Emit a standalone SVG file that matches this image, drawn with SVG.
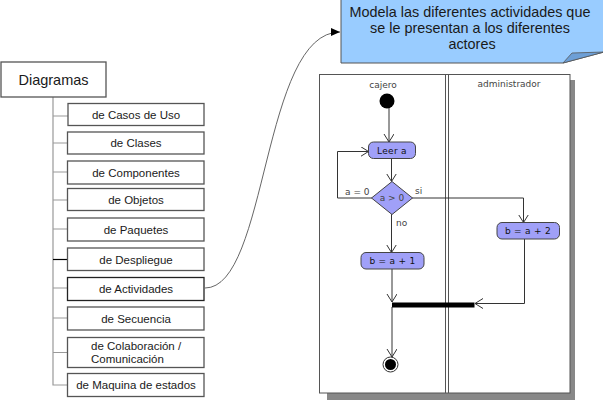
<svg xmlns="http://www.w3.org/2000/svg" width="603" height="400" viewBox="0 0 603 400">
<defs>
<style>
.box{fill:#fff;stroke:#555;stroke-width:1.3}
.lbl{font-family:"Liberation Sans",Arial,sans-serif;font-size:11.5px;fill:#1a1a1a;text-anchor:middle}
.tree{stroke:#999;stroke-width:1.2;fill:none}
.act{fill:#a0a0f8;stroke:#444;stroke-width:1}
.at{font-family:"DejaVu Sans",sans-serif;font-size:9px;letter-spacing:0.3px;fill:#111;text-anchor:middle}
.ag{font-family:"DejaVu Sans",sans-serif;font-size:9px;fill:#444}
.flow{stroke:#333;stroke-width:1;fill:none}
.lane{font-family:"DejaVu Sans",sans-serif;font-size:9px;fill:#444;text-anchor:middle}
</style>
<marker id="open" markerWidth="10" markerHeight="12" refX="8" refY="5" orient="auto" markerUnits="userSpaceOnUse">
<path d="M0,0 L8,5 L0,10" fill="none" stroke="#333" stroke-width="1"/>
</marker>
<marker id="fill" markerWidth="10" markerHeight="8" refX="9" refY="4" orient="auto" markerUnits="userSpaceOnUse">
<path d="M0,0 L9,4 L0,8 Z" fill="#000"/>
</marker>
</defs>

<g id="callout">
<path d="M341,-1 L604,-1 L604,52 L563,63 L341,63 Z" fill="#99ccff" stroke="#555" stroke-width="1"/>
<path d="M563,63 L572,53 L604,52 Z" fill="#6d9fd6" stroke="#555" stroke-width="0.8"/>
<text font-family="'Liberation Sans',Arial,sans-serif" font-size="14.4" fill="#1a1a1a" text-anchor="middle">
<tspan x="472" y="17">Modela las diferentes actividades que</tspan>
<tspan x="472" y="33">se le presentan a los diferentes</tspan>
<tspan x="472" y="49">actores</tspan>
</text>
</g>

<g id="tree-connectors">
<path class="tree" d="M53,97 V385 H68"/>
<path class="tree" d="M53,116 H68 M53,143 H68 M53,172 H68 M53,200 H68 M53,229 H68 M53,288 H68 M53,318 H68 M53,352.5 H68"/>
<path d="M53,259.5 H68" stroke="#000" stroke-width="1.2"/>
</g>

<g id="diagramas">
<rect class="box" x="1" y="62" width="105" height="35"/>
<text x="53.5" y="85" font-family="'Liberation Sans',Arial,sans-serif" font-size="14.5" fill="#1a1a1a" text-anchor="middle">Diagramas</text>
</g>
<g id="n-casos"><rect class="box" x="68" y="103.5" width="136" height="22"/><text class="lbl" x="136" y="118.5">de Casos de Uso</text></g>
<g id="n-clases"><rect class="box" x="67.5" y="132" width="136.5" height="22"/><text class="lbl" x="136" y="147">de Clases</text></g>
<g id="n-componentes"><rect class="box" x="67.5" y="161" width="136.5" height="23"/><text class="lbl" x="136" y="176.5">de Componentes</text></g>
<g id="n-objetos"><rect class="box" x="67.5" y="188.5" width="136.5" height="22"/><text class="lbl" x="136" y="203.5">de Objetos</text></g>
<g id="n-paquetes"><rect class="box" x="67.5" y="218" width="136.5" height="23"/><text class="lbl" x="136" y="233.5">de Paquetes</text></g>
<g id="n-despliegue"><rect class="box" x="67.5" y="248" width="136.5" height="22.5"/><text class="lbl" x="136" y="263.5">de Despliegue</text></g>
<g id="n-actividades"><rect class="box" x="67.5" y="277.5" width="136.5" height="23" style="stroke:#222"/><text class="lbl" x="136" y="293">de Actividades</text></g>
<g id="n-secuencia"><rect class="box" x="67.5" y="307" width="136.5" height="23"/><text class="lbl" x="136" y="322.5">de Secuencia</text></g>
<g id="n-colaboracion"><rect class="box" x="67.5" y="337.5" width="136.5" height="30"/><text class="lbl" x="136" y="349.5" style="text-anchor:start"><tspan x="91" y="349.5">de Colaboración /</tspan><tspan x="91" y="362.5">Comunicación</tspan></text></g>
<g id="n-maquina"><rect class="box" x="67.5" y="373.5" width="136.5" height="23"/><text class="lbl" x="136" y="389">de Maquina de estados</text></g>

<g id="link">
<path d="M205,288 C268,288 262,32 340,32" fill="none" stroke="#555" stroke-width="0.9" marker-end="url(#fill)"/>
</g>

<g id="activity-frame">
<path d="M570,80 H575 V400 H327 V393 H570 Z" fill="#888"/>
<rect x="319.5" y="74.5" width="250.5" height="318.5" fill="#fff" stroke="#555" stroke-width="1"/>
<line x1="445.5" y1="74.5" x2="445.5" y2="393" stroke="#555" stroke-width="1"/>
<line x1="448.5" y1="74.5" x2="448.5" y2="393" stroke="#555" stroke-width="1"/>
<text class="lane" x="383" y="88">cajero</text>
<text class="lane" x="509" y="87">administrador</text>
</g>

<g id="flows">
<path class="flow" d="M389,108 V142" marker-end="url(#open)"/>
<path class="flow" d="M391.5,158 V181.5" marker-end="url(#open)"/>
<path class="flow" d="M372,198 H337.5 V151.5 H368.5" marker-end="url(#open)"/>
<path class="flow" d="M412,198 H523.5 V222.5" marker-end="url(#open)"/>
<path class="flow" d="M391.5,214 V252.5" marker-end="url(#open)"/>
<path class="flow" d="M392,269 V302" marker-end="url(#open)"/>
<path class="flow" d="M524.5,239 V303.5 H475" marker-end="url(#open)"/>
<path class="flow" d="M392,307 V357" marker-end="url(#open)"/>
</g>

<g id="initial"><circle cx="387" cy="101" r="7.5" fill="#000"/></g>
<g id="leer"><rect class="act" x="368.5" y="142" width="47" height="16.5" rx="5"/><text class="at" x="392" y="153.5">Leer a</text></g>
<g id="decision"><path class="act" d="M392,181.5 L412.5,198 L392,214.5 L371.5,198 Z"/><text class="ag" x="392" y="201" text-anchor="middle">a &gt; 0</text></g>
<g id="guards">
<text class="ag" x="345" y="194.5">a = 0</text>
<text class="ag" x="415" y="194">si</text>
<text class="ag" x="396" y="225.5">no</text>
</g>
<g id="b2"><rect class="act" x="497" y="222.5" width="62.5" height="16.5" rx="5"/><text class="at" x="528" y="234">b = a + 2</text></g>
<g id="b1"><rect class="act" x="361" y="252.5" width="63" height="16.5" rx="5"/><text class="at" x="392.5" y="264">b = a + 1</text></g>
<g id="join"><rect x="392" y="302.5" width="82.5" height="5" fill="#000"/></g>
<g id="final"><circle cx="390.5" cy="364.5" r="7.5" fill="#fff" stroke="#333" stroke-width="1"/><circle cx="390.5" cy="364.5" r="5.5" fill="#000"/></g>
</svg>
